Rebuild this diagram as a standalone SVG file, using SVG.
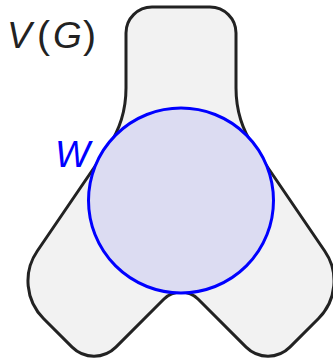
<svg xmlns="http://www.w3.org/2000/svg" width="333" height="360" viewBox="0 0 333 360">
<style>
.shape{fill:#f2f2f2;stroke:#222;stroke-width:3;stroke-linejoin:round}
.set{fill:#dcdcf2;stroke:#0000ff;stroke-width:3}
.lbl{font-family:"Liberation Sans",Arial,sans-serif;font-size:37px}
.it{font-style:italic}
</style>
<g id="VG">
<path class="shape" d="M126,88 L126,33 A26,26 0 0 1 152,7 L210,7 A26,26 0 0 1 236,33 L236,88 Q236,121 254.5,148 L324.7,251 A53,53 0 0 1 318.3,318.7 L289.9,347.1 A31,31 0 0 1 246.1,347.1 L198,299 A24,24 0 0 0 164,299 L115.9,347.1 A31,31 0 0 1 72.1,347.1 L43.7,318.7 A53,53 0 0 1 37.3,251 L107.5,148 Q126,121 126,88 Z"/>
<text class="lbl" y="48" fill="#222"><tspan class="it" x="7">V</tspan><tspan x="37" font-size="39">(</tspan><tspan class="it" x="53">G</tspan><tspan x="83" font-size="39">)</tspan></text>
</g>
<g id="W">
<circle class="set" cx="181" cy="200.5" r="92.5"/>
<text class="lbl it" x="55" y="167" fill="#0000ff">W</text>
</g>
</svg>
